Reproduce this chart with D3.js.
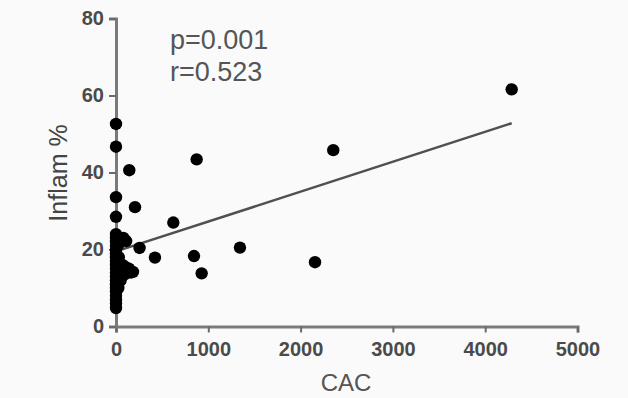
<!DOCTYPE html>
<html>
<head>
<meta charset="utf-8">
<script src="https://cdn.jsdelivr.net/npm/d3@7"></script>
<style>
  body { margin: 0; background: #fafafa; }
  svg { display: block; }
  text { font-family: "Liberation Sans", Arial, sans-serif; }
</style>
</head>
<body>
<svg id="chart"></svg>
<script>
// CAC vs inflammation %
var cacValues = [4287, 2354, 2156, 874, 144, 206, 621, 255, 422, 845, 928, 1343, 184,
  0, 0, 0, 0,
  0, 0, 0, 0, 0, 0, 0, 0, 0, 0, 0, 0, 0, 0, 0, 0, 0, 0, 0, 0,
  40, 80, 110, 60, 130, 160, 30, 50, 25, 70, 90, 20, 100, 140];
var inflamValues = [61.6, 45.8, 16.7, 43.4, 40.6, 31.0, 27.0, 20.4, 17.9, 18.3, 13.8, 20.5, 14.2,
  52.6, 46.7, 33.6, 28.5,
  4.8, 6, 7, 8, 9, 10, 11, 12, 13, 14, 15, 16, 17, 18, 19, 20, 21, 22, 23, 24,
  22.5, 23, 22.2, 15, 14.5, 14, 18, 12, 10, 16, 13.5, 21, 15.5, 15];
var fitX = [0, 4287];
var fitY = [19.5, 52.8];
var xTicks = [0, 1000, 2000, 3000, 4000, 5000];
var yTicks = [0, 20, 40, 60, 80];

function drawChart() {
    var width = 628, height = 398;
    var svg = d3.select('#chart').attr("width", width).attr("height", height);

    var xScale = d3.scaleLinear().domain([0, 5000]).range([116, 577.5]);
    var yScale = d3.scaleLinear().domain([0, 80]).range([326.5, 18.5]);

    var xAxis = d3.axisBottom(xScale).tickValues(xTicks).tickSize(6).tickPadding(9).tickFormat(d3.format("d"));
    var yAxis = d3.axisLeft(yScale).tickValues(yTicks).tickSize(7).tickPadding(5).tickFormat(d3.format("d"));

    var gx = svg.append("g").attr("transform", "translate(0," + yScale(0) + ")").call(xAxis);
    var gy = svg.append("g").attr("transform", "translate(" + xScale(0) + ",0)").call(yAxis);

    [gx, gy].forEach(function (g) {
        g.select(".domain").attr("stroke", "#7a7a7a").attr("stroke-width", 3);
        g.selectAll(".tick line").attr("stroke", "#6a6a6a").attr("stroke-width", 2);
        g.selectAll(".tick text").attr("fill", "#4a4a4a").attr("font-size", 20)
            .attr("font-weight", "bold").style("font-family", "'Liberation Sans', Arial, sans-serif");
    });

    // regression line
    svg.append("line")
        .attr("x1", xScale(fitX[0])).attr("y1", yScale(fitY[0]))
        .attr("x2", xScale(fitX[1])).attr("y2", yScale(fitY[1]))
        .attr("stroke", "#505050").attr("stroke-width", 2.5);

    svg.append("g").selectAll("circle")
        .data(cacValues)
        .enter().append("circle")
        .attr("cx", function (d) { return xScale(d); })
        .attr("cy", function (d, i) { return yScale(inflamValues[i]); })
        .attr("r", 6.2)
        .attr("fill", "#000");

    svg.append("text").attr("x", 346).attr("y", 391)
        .attr("text-anchor", "middle").attr("font-size", 24).attr("fill", "#555")
        .text("CAC");

    svg.append("text").attr("transform", "translate(67,173) rotate(-90)")
        .attr("text-anchor", "middle").attr("font-size", 25).attr("fill", "#444")
        .text("Inflam %");

    svg.append("text").attr("x", 170).attr("y", 49).attr("font-size", 27).attr("fill", "#555")
        .text("p=0.001");
    svg.append("text").attr("x", 170).attr("y", 81).attr("font-size", 27).attr("fill", "#555")
        .text("r=0.523");
}

drawChart();
</script>
</body>
</html>
